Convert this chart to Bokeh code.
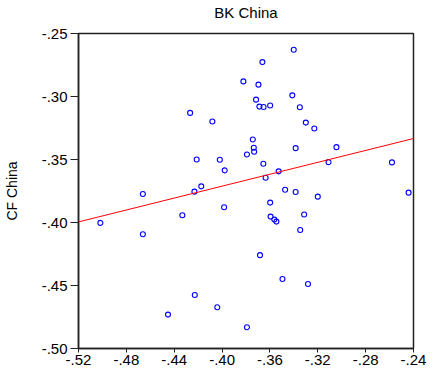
from bokeh.plotting import figure
from bokeh.models import Range1d, FixedTicker, Slope, LinearAxis
from bokeh.embed import file_html
from bokeh.resources import INLINE

# ---- data ----
bk_china = [-0.3401, -0.3663, -0.3822, -0.3696, -0.3413, -0.3716, -0.3688, -0.3653,
            -0.3598, -0.3350, -0.4267, -0.4081, -0.3300, -0.3229, -0.3743, -0.3735,
            -0.3732, -0.3792, -0.3385, -0.3044, -0.4212, -0.4019, -0.3655, -0.3110,
            -0.2580, -0.3978, -0.3527, -0.3636, -0.4174, -0.3473, -0.3385, -0.3200,
            -0.2441, -0.4662, -0.4231, -0.3598, -0.3983, -0.3314, -0.4332, -0.3595,
            -0.3563, -0.3546, -0.5017, -0.3347, -0.4662, -0.3683, -0.3495, -0.3282,
            -0.4228, -0.4040, -0.4452, -0.3792]
cf_china = [-0.2629, -0.2727, -0.2880, -0.2906, -0.2991, -0.3025, -0.3080, -0.3083,
            -0.3072, -0.3085, -0.3130, -0.3199, -0.3207, -0.3254, -0.3341, -0.3407,
            -0.3439, -0.3460, -0.3410, -0.3402, -0.3500, -0.3502, -0.3534, -0.3521,
            -0.3523, -0.3586, -0.3594, -0.3645, -0.3713, -0.3740, -0.3758, -0.3795,
            -0.3763, -0.3774, -0.3755, -0.3842, -0.3879, -0.3937, -0.3942, -0.3953,
            -0.3977, -0.3993, -0.4003, -0.4059, -0.4093, -0.4259, -0.4449, -0.4488,
            -0.4575, -0.4673, -0.4731, -0.4831]

fit_slope = 0.2364
fit_intercept = -0.2766

x_ticks = [-0.52, -0.48, -0.44, -0.40, -0.36, -0.32, -0.28, -0.24]
x_tick_labels = ["-.52", "-.48", "-.44", "-.40", "-.36", "-.32", "-.28", "-.24"]
y_ticks = [-0.50, -0.45, -0.40, -0.35, -0.30, -0.25]
y_tick_labels = ["-.50", "-.45", "-.40", "-.35", "-.30", "-.25"]
x_title = "BK China"
y_title = "CF China"

FONT = "Liberation Sans"

p = figure(width=442, height=374, output_backend="svg", toolbar_location=None,
           x_range=Range1d(-0.52, -0.24), y_range=Range1d(-0.50, -0.25),
           min_border_left=71, min_border_right=29, min_border_top=32,
           min_border_bottom=26)

p.xgrid.visible = False
p.ygrid.visible = False
p.outline_line_color = "#222222"
p.outline_line_width = 1.5
p.background_fill_color = "white"
p.border_fill_color = "white"

p.xaxis.ticker = FixedTicker(ticks=x_ticks)
p.xaxis.major_label_overrides = dict(zip(x_ticks, x_tick_labels))
p.yaxis.ticker = FixedTicker(ticks=y_ticks)
p.yaxis.major_label_overrides = dict(zip(y_ticks, y_tick_labels))
p.yaxis.axis_label = y_title

for ax in (p.xaxis[0], p.yaxis[0]):
    ax.minor_tick_line_color = None
    ax.major_tick_in = 0
    ax.axis_line_color = "#222222"
    ax.axis_line_width = 1.5
    ax.major_tick_line_color = "#222222"
    ax.major_label_text_font = FONT
    ax.major_label_text_font_size = "15px"
    ax.major_label_text_color = "black"
    ax.axis_label_text_font = FONT
    ax.axis_label_text_font_size = "14px"
    ax.axis_label_text_font_style = "normal"
    ax.axis_label_text_color = "black"

p.xaxis.major_tick_out = 4
p.xaxis.major_label_standoff = 2
p.yaxis.major_tick_out = 8
p.yaxis.major_label_standoff = 3
p.yaxis.axis_label_standoff = 19

# x variable name shown above the frame, as in the reference
top_axis = LinearAxis(ticker=FixedTicker(ticks=[]), axis_label=x_title,
                      axis_line_color=None, major_tick_line_color=None,
                      minor_tick_line_color=None, major_tick_out=0,
                      major_tick_in=0, major_label_standoff=0,
                      axis_label_standoff=13,
                      axis_label_text_font=FONT,
                      axis_label_text_font_size="15px",
                      axis_label_text_font_style="normal",
                      axis_label_text_color="black")
p.add_layout(top_axis, "above")

p.add_layout(Slope(gradient=fit_slope, y_intercept=fit_intercept,
                   line_color="red", line_width=1))

p.scatter(bk_china, cf_china, marker="circle", size=5, fill_color=None,
          line_color="blue", line_width=1.1)

open("out.html", "w").write(file_html(p, INLINE))
